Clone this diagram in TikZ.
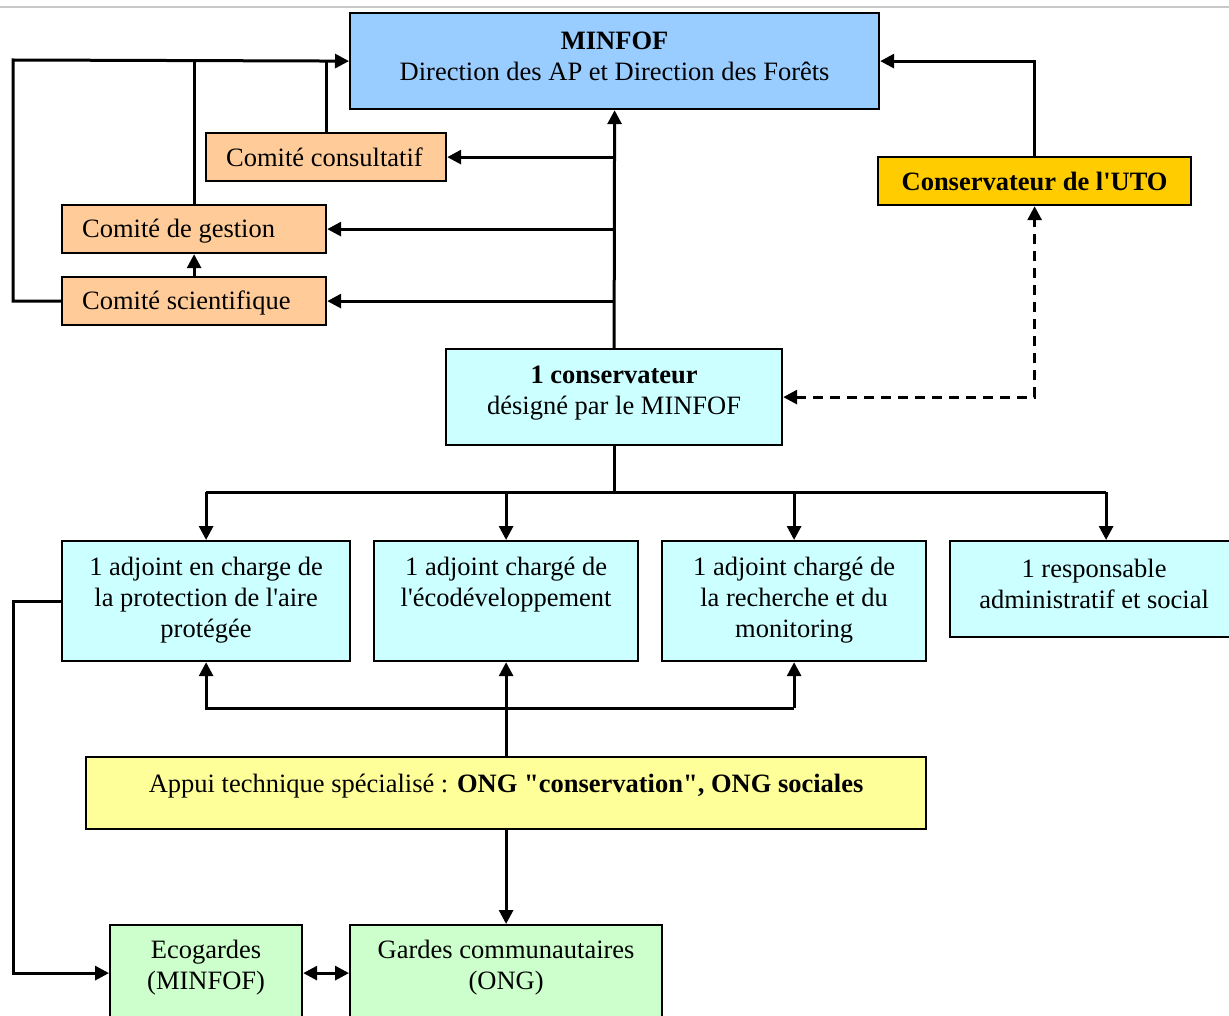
\documentclass[tikz,border=0pt]{standalone}
\usepackage{fontspec}
\setmainfont{Liberation Serif}
\usetikzlibrary{arrows.meta}
\newcommand\qd{\textquotedbl}
\newcommand\qs{\textquotesingle}
\definecolor{cblue}{HTML}{99CCFF}
\definecolor{cpeach}{HTML}{FFCC99}
\definecolor{cgold}{HTML}{FFCC00}
\definecolor{ccyan}{HTML}{CCFFFF}
\definecolor{cyell}{HTML}{FFFF99}
\definecolor{cgreen}{HTML}{CCFFCC}
\definecolor{cgrayline}{HTML}{C8C8C8}
\begin{document}
\begin{tikzpicture}[x=1pt,y=-1pt,
  box/.style={draw, line width=2.2pt, inner sep=0pt, anchor=north west},
  txt/.style={align=center, inner sep=0pt, font=\fontsize{26.5}{31}\selectfont},
  ln/.style={line width=3pt},
  arr/.style={ln, -{Triangle[length=14pt,width=14pt]}},
  darr/.style={ln, {Triangle[length=14pt,width=14pt]}-{Triangle[length=14pt,width=14pt]}}]
\useasboundingbox (0,0) rectangle (1229,1016);
\clip (0,0) rectangle (1229,1016);
\fill[white] (0,0) rectangle (1229,1016);
\coordinate (tl) at (0,7);
\coordinate (tr) at (1229,7);
\draw[cgrayline, line width=2pt] (tl) -- (tr);

% boxes
\node[box, fill=cblue, minimum width=529, minimum height=96] (minfof) at (349,12) {};
\node[box, fill=cpeach, minimum width=240, minimum height=48] (consult) at (205,132) {};
\node[box, fill=cpeach, minimum width=264, minimum height=48] (gestion) at (61,204) {};
\node[box, fill=cpeach, minimum width=264, minimum height=48] (scient) at (61,276) {};
\node[box, fill=cgold, minimum width=313, minimum height=48] (uto) at (877,156) {};
\node[box, fill=ccyan, minimum width=336, minimum height=96] (cons) at (445,348) {};
\node[box, fill=ccyan, minimum width=288, minimum height=120] (adj1) at (61,540) {};
\node[box, fill=ccyan, minimum width=264, minimum height=120] (adj2) at (373,540) {};
\node[box, fill=ccyan, minimum width=264, minimum height=120] (adj3) at (661,540) {};
\node[box, fill=ccyan, minimum width=312, minimum height=96] (resp) at (949,540) {};
\node[box, fill=cyell, minimum width=840, minimum height=72] (appui) at (85,756) {};
\node[box, fill=cgreen, minimum width=192, minimum height=96] (eco) at (109,924) {};
\node[box, fill=cgreen, minimum width=312, minimum height=96] (gardes) at (349,924) {};

% texts
\node[txt] (minfofT) at ([yshift=5pt]minfof.center) {\textbf{MINFOF}\\Direction des AP et Direction des Forêts};
\node[txt, anchor=west] (consultT) at ([xshift=21pt]consult.west) {Comité consultatif};
\node[txt, anchor=west] (gestionT) at ([xshift=21pt,yshift=-2pt]gestion.west) {Comité de gestion};
\node[txt, anchor=west] (scientT) at ([xshift=21pt,yshift=-2pt]scient.west) {Comité scientifique};
\node[txt] (utoT) at (uto.center) {\textbf{Conservateur de l\qs UTO}};
\node[txt] (consT) at ([yshift=4pt]cons.center) {\textbf{1 conservateur}\\désigné par le MINFOF};
\node[txt] (adj1T) at ([yshift=1pt]adj1.center) {1 adjoint en charge de\\la protection de l\qs aire\\protégée};
\node[txt] (adj2T) at ([yshift=16pt]adj2.center) {1 adjoint chargé de\\l\qs écodéveloppement};
\node[txt] (adj3T) at ([yshift=1pt]adj3.center) {1 adjoint chargé de\\la recherche et du\\monitoring};
\node[txt] (respT) at ([xshift=-12pt,yshift=5pt]resp.center) {1 responsable\\administratif et social};
\node[txt] (appuiT) at ([yshift=7pt]appui.center) {Appui technique spécialisé : \textbf{ONG \qd conservation\qd, ONG sociales}};
\node[txt] (ecoT) at ([yshift=5pt]eco.center) {Ecogardes\\(MINFOF)};
\node[txt] (gardesT) at ([yshift=5pt]gardes.center) {Gardes communautaires\\(ONG)};

% connectors, upper part
\coordinate (lft) at (13,60);
\draw[arr] (cons.north) -- (minfof.south);
\draw[arr] (cons.north |- consult.east) -- (consult.east);
\draw[arr] (cons.north |- gestion.east) -- (gestion.east);
\draw[arr] (cons.north |- scient.east) -- (scient.east);
\draw[arr] (scient.west) -- (scient.west -| lft) -- (lft) -- (minfof.west);
\draw[ln] (gestion.north) -- (gestion.north |- minfof.west);
\draw[ln] (consult.north) -- (consult.north |- minfof.west);
\draw[arr] (scient.north) -- (gestion.south);
\draw[arr] (uto.north) |- (minfof.east);
\draw[darr, dash pattern=on 10pt off 7pt] (cons.east) -| (uto.south);

% conservateur to adjoints
\coordinate (bus) at (613,492);
\draw[ln] (cons.south) -- (cons.south |- bus);
\draw[ln] (adj1.north |- bus) -- (resp.north |- bus);
\draw[arr] (adj1.north |- bus) -- (adj1.north);
\draw[arr] (adj2.north |- bus) -- (adj2.north);
\draw[arr] (adj3.north |- bus) -- (adj3.north);
\draw[arr] (resp.north |- bus) -- (resp.north);

% appui
\coordinate (bus2) at (505,708);
\draw[arr] (appui.north) -- (adj2.south);
\draw[arr] (adj3.south |- bus2) -- (adj3.south);
\draw[arr] (adj3.south |- bus2) -- (adj1.south |- bus2) -- (adj1.south);
\draw[arr] (appui.south) -- (gardes.north);

% bottom
\draw[arr] (adj1.west) -- (adj1.west -| lft) |- (eco.west);
\draw[darr] (eco.east) -- (gardes.west);
\end{tikzpicture}
\end{document}
